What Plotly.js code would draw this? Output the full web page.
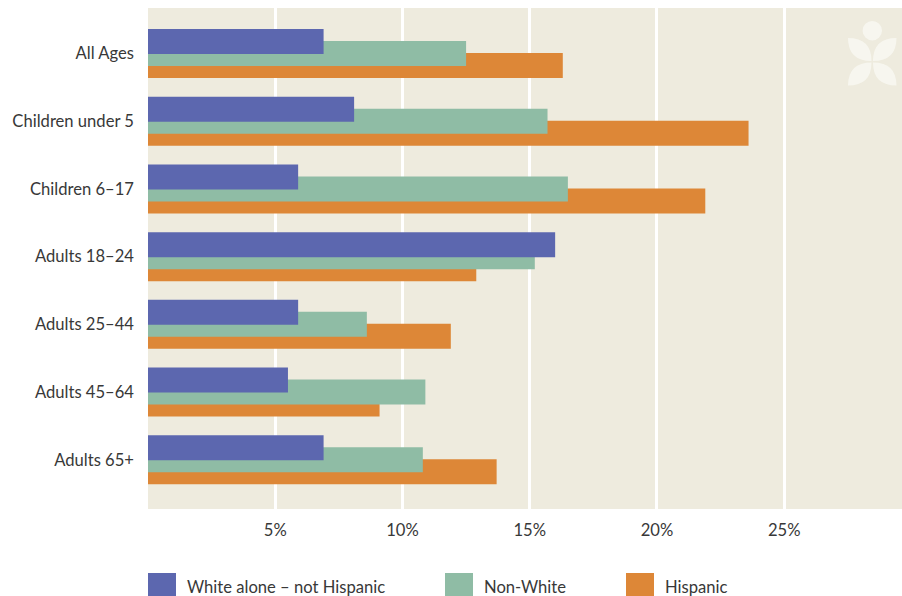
<!DOCTYPE html>
<html>
<head>
<meta charset="utf-8">
<script src="https://cdn.plot.ly/plotly-3.0.1.min.js"></script>
<style>
  html, body { margin: 0; padding: 0; background: #ffffff; }
  #chart { width: 902px; height: 596px; }
</style>
</head>
<body>
<div id="chart"></div>
<script>
// ---- Data ----
const categories = ["All Ages", "Children under 5", "Children 6–17", "Adults 18–24", "Adults 25–44", "Adults 45–64", "Adults 65+"];
const whiteNotHispanic = [6.9, 8.1, 5.9, 16.0, 5.9, 5.5, 6.9];
const nonWhite = [12.5, 15.7, 16.5, 15.2, 8.6, 10.9, 10.8];
const hispanic = [16.3, 23.6, 21.9, 12.9, 11.9, 9.1, 13.7];
const seriesNames = ["White alone – not Hispanic", "Non-White", "Hispanic"];
const tickVals = [5, 10, 15, 20, 25];
const tickText = ["5%", "10%", "15%", "20%", "25%"];

// ---- Style ----
const colors = ["#5C67AF", "#8FBCA5", "#DD8737"];
const bg = "#EEEBDE";
const textColor = "#383838";
const fontFamily = "Lato, 'Open Sans', sans-serif";
const fontSize = 16.6;

const W = 902, H = 596;
const M = { l: 148, r: 0, t: 8, b: 87 };
const plotW = W - M.l - M.r, plotH = H - M.t - M.b;
function px2x(px) { return (px - M.l) / plotW; }
function px2y(py) { return (H - M.b - py) / plotH; }

const barW = 0.3694;
const traces = [
  { name: seriesNames[2], x: hispanic, color: colors[2], offset: -0.0074 },
  { name: seriesNames[1], x: nonWhite, color: colors[1], offset: -0.1847 },
  { name: seriesNames[0], x: whiteNotHispanic, color: colors[0], offset: -0.362 }
].map(t => ({
  type: "bar",
  orientation: "h",
  name: t.name,
  x: t.x,
  y: categories,
  width: barW,
  offset: t.offset,
  marker: { color: t.color, line: { width: 0 } },
  showlegend: false,
  hoverinfo: "x+name"
}));

// Logo (decorative) in pixel coords, converted to paper
function leaf(ax, ay, bx, by, c1x, c1y, c2x, c2y) {
  return "M " + px2x(ax) + "," + px2y(ay) +
    " Q " + px2x(c1x) + "," + px2y(c1y) + " " + px2x(bx) + "," + px2y(by) +
    " Q " + px2x(c2x) + "," + px2y(c2y) + " " + px2x(ax) + "," + px2y(ay) + " Z";
}
const logoColor = "rgba(250,249,244,0.75)";
const shapes = [
  { type: "circle", xref: "paper", yref: "paper",
    x0: px2x(862.6), x1: px2x(882), y0: px2y(40.4), y1: px2y(21),
    fillcolor: logoColor, line: { width: 0 } },
  { type: "path", xref: "paper", yref: "paper", path: leaf(848, 38, 871.5, 61, 871.5, 38, 848, 61), fillcolor: logoColor, line: { width: 0 } },
  { type: "path", xref: "paper", yref: "paper", path: leaf(896.5, 38, 873, 61, 873, 38, 896.5, 61), fillcolor: logoColor, line: { width: 0 } },
  { type: "path", xref: "paper", yref: "paper", path: leaf(871.5, 62.5, 848, 85.5, 848, 62.5, 871.5, 85.5), fillcolor: logoColor, line: { width: 0 } },
  { type: "path", xref: "paper", yref: "paper", path: leaf(873, 62.5, 896.5, 85.5, 896.5, 62.5, 873, 85.5), fillcolor: logoColor, line: { width: 0 } }
];

// Legend (drawn manually to match large swatches)
const legendSwatchX = [148, 445, 626];
const legendTextX = [185, 482, 663];
const annotations = [];
seriesNames.forEach((n, i) => {
  shapes.push({ type: "rect", xref: "paper", yref: "paper",
    x0: px2x(legendSwatchX[i]), x1: px2x(legendSwatchX[i] + 28),
    y0: px2y(601), y1: px2y(573),
    fillcolor: colors[i], line: { width: 0 } });
  annotations.push({ xref: "paper", yref: "paper", x: px2x(legendTextX[i]), y: px2y(587),
    xanchor: "left", yanchor: "middle", showarrow: false, text: n,
    font: { family: fontFamily, size: fontSize, color: textColor } });
});

const layout = {
  width: W, height: H,
  margin: M,
  paper_bgcolor: "#ffffff",
  plot_bgcolor: bg,
  barmode: "overlay",
  font: { family: fontFamily, size: fontSize, color: textColor },
  xaxis: {
    range: [0, 29.63],
    tickvals: tickVals,
    ticktext: tickText,
    showgrid: true,
    gridcolor: "#ffffff",
    gridwidth: 3,
    zeroline: false,
    showline: false,
    ticks: "",
    ticklabelstandoff: 9,
    tickfont: { family: fontFamily, size: fontSize, color: textColor },
    fixedrange: true
  },
  yaxis: {
    type: "category",
    categoryorder: "array",
    categoryarray: categories,
    range: [6.727, -0.672],
    showgrid: false,
    zeroline: false,
    showline: false,
    ticks: "",
    ticklabelstandoff: 13,
    tickfont: { family: fontFamily, size: fontSize, color: textColor },
    fixedrange: true
  },
  shapes: shapes,
  annotations: annotations,
  showlegend: false
};

Plotly.newPlot("chart", traces, layout, { displayModeBar: false, staticPlot: true });
</script>
</body>
</html>
